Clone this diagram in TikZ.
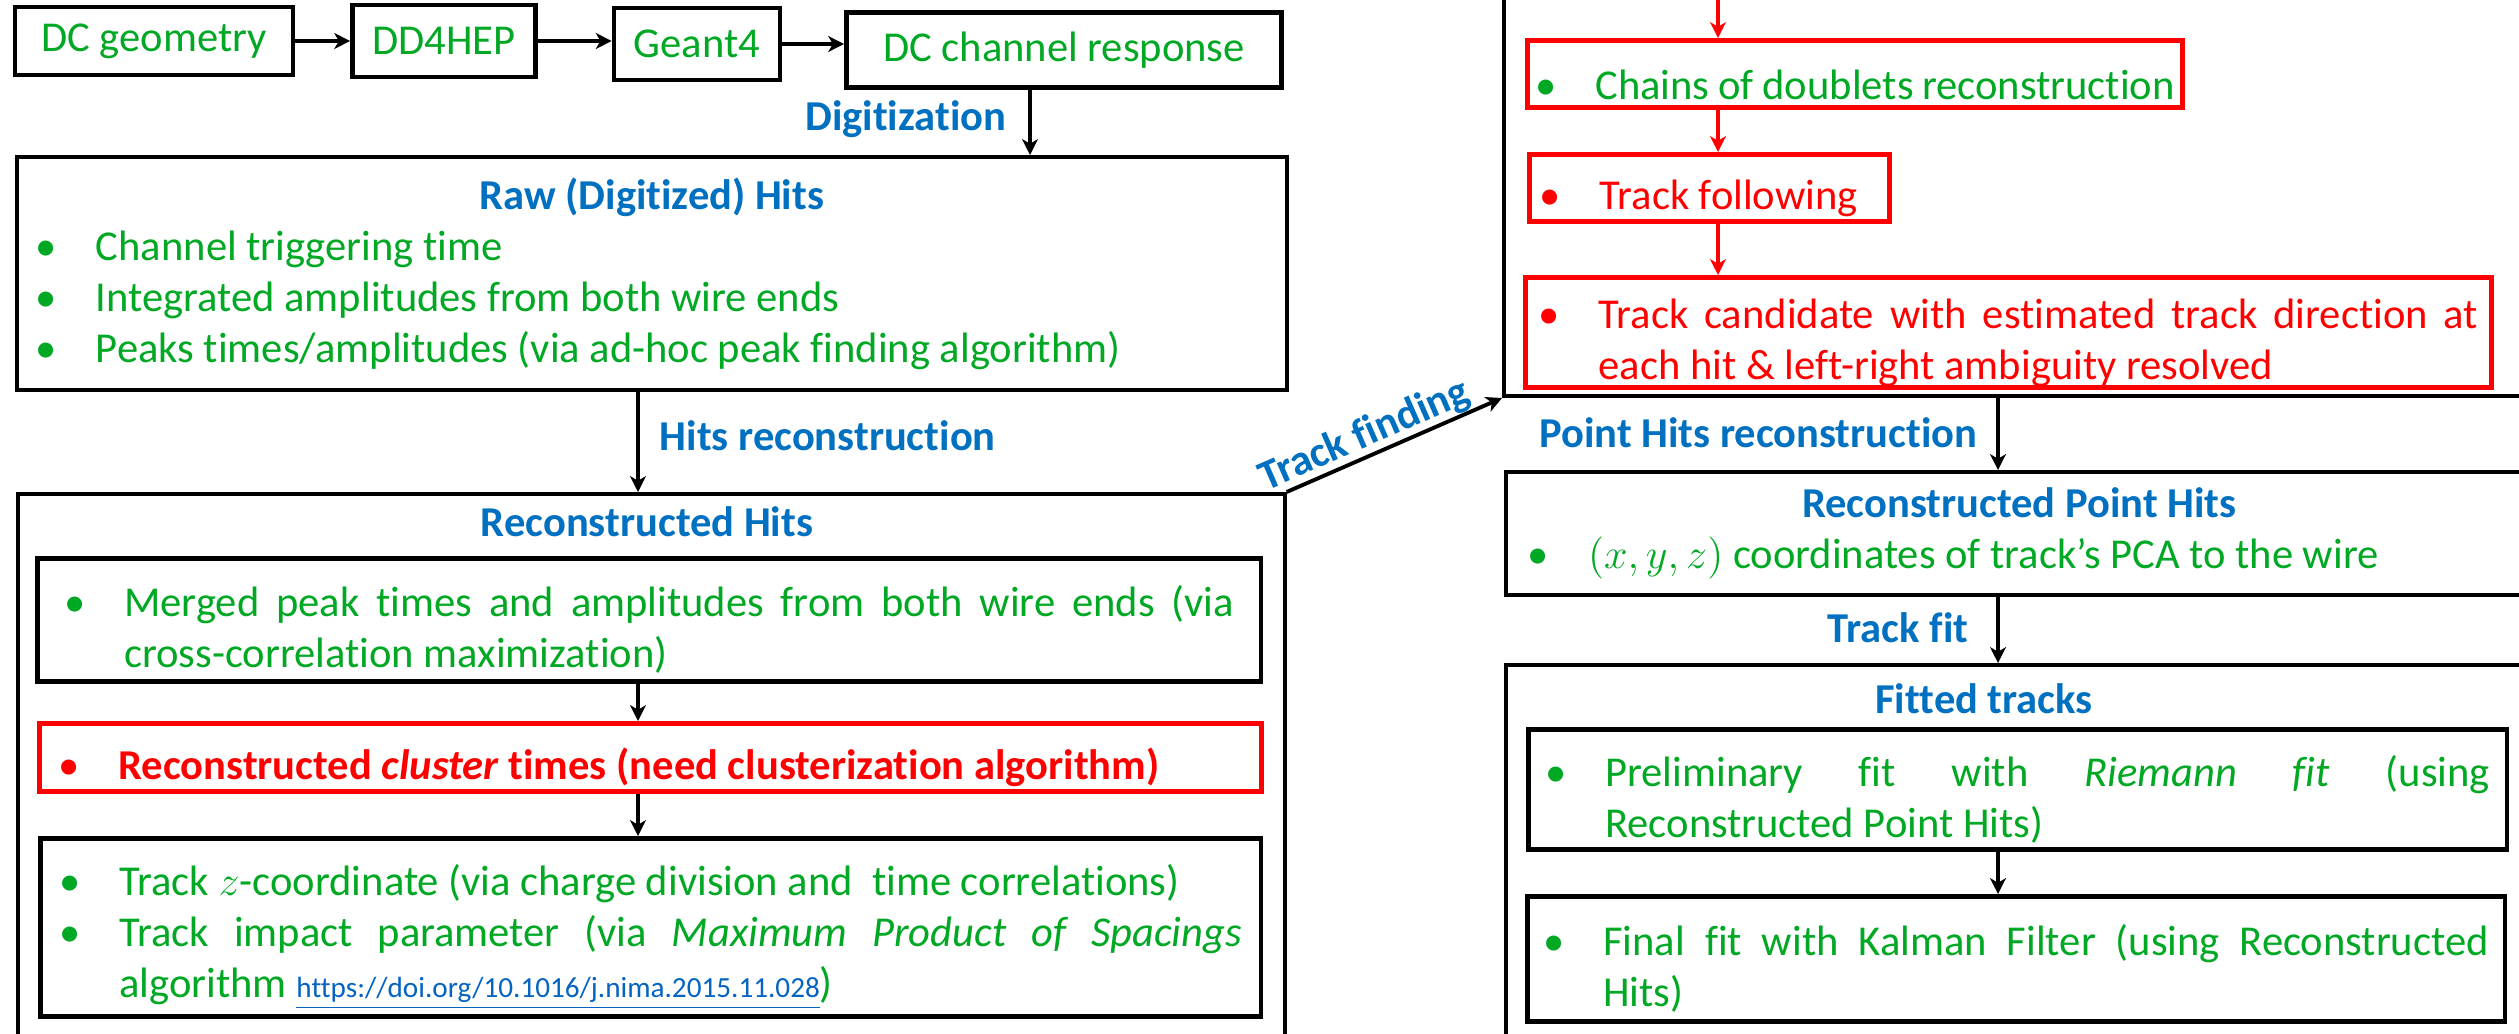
\documentclass[tikz,border=0pt]{standalone}
\usepackage{fontspec}
\setmainfont[Ligatures={NoCommon}]{Carlito}
\usetikzlibrary{arrows.meta}
\definecolor{grn}{RGB}{0,168,36}
\definecolor{blu}{HTML}{0070C0}
\definecolor{lnk}{HTML}{0563C1}
\definecolor{rd}{HTML}{FF0000}
\newcommand{\bitem}[1]{\par\noindent\hangindent=0.6cm\hangafter=1\makebox[0.6cm][l]{\textbullet}#1\par}
\newcommand{\ttl}[1]{{\centering\bfseries\color{blu}#1\par}}
\tikzstyle{every node}=[font=\fontsize{12.1}{14.5}\selectfont, text=grn, inner sep=0pt]
\tikzstyle{stage}=[draw=black, line width=1.3pt]
\tikzstyle{panel}=[draw=black, line width=1.1pt, anchor=north west, align=justify]
\tikzstyle{inbox}=[draw=black, line width=1.3pt, anchor=north west, align=justify]
\tikzstyle{redbox}=[draw=rd, line width=1.4pt, anchor=north west, align=justify]
\tikzstyle{lbl}=[font=\fontsize{12.1}{14.5}\selectfont\bfseries, text=blu]
\tikzstyle{flow}=[line width=0.9pt, -{Stealth[length=4.5pt,width=4.5pt,inset=1.3pt]}]
\tikzstyle{redflow}=[flow, draw=rd, line width=1.1pt]

\begin{document}
\begin{tikzpicture}[x=0.01cm, y=-0.01cm]
	\useasboundingbox (0,0) rectangle (2519,1033);
	\fill[white] (0,0) rectangle (2519,1033);
	\clip (0,0) rectangle (2519,1033);
	\coordinate (dgx) at (1030,0);
	\coordinate (hx) at (638,0);
	\coordinate (px) at (1998,0);
	\coordinate (tftop) at (1718,-30);

	\node[stage, minimum width=2.78cm, minimum height=0.68cm] (geom) at (154,41) {DC geometry};
	\node[stage, minimum width=1.83cm, minimum height=0.72cm] (dd4hep) at (444,41) {DD4HEP};
	\node[stage, minimum width=1.66cm, minimum height=0.72cm] (geant) at (697,44) {Geant4};
	\node[stage, minimum width=4.35cm, minimum height=0.75cm] (chan) at (1064,50) {DC channel response};
	\draw[flow, line width=1.4pt] (geom.east) -- (dd4hep.west |- geom.east);
	\draw[flow, line width=1.4pt] (dd4hep.east) -- (geant.west |- dd4hep.east);
	\draw[flow, line width=1.4pt] (geant.east) -- (chan.west |- geant.east);

	\node[panel, inner xsep=0.19cm, text width=12.31cm, minimum height=2.33cm] (raw) at (15,155) {\ttl{Raw (Digitized) Hits}\bitem{Channel triggering time}\bitem{Integrated amplitudes from both wire ends}\bitem{Peaks times/amplitudes (via ad-hoc peak finding algorithm)}};
	\node[lbl, anchor=base east] (digi) at (1007,130) {Digitization};
	\draw[flow] (chan.south -| dgx) -- (raw.north -| dgx);

	\node[panel, minimum width=12.66cm, minimum height=6cm] (rech) at (16,492) {};
	\node[lbl, anchor=base] (recht) at (647,536) {Reconstructed Hits};
	\node[lbl, anchor=base west] (hrec) at (659,450) {Hits reconstruction};
	\draw[flow] (raw.south -| hx) -- (rech.north -| hx);
	\node[inbox, inner xsep=0.27cm, text width=11.69cm, minimum height=1.23cm] (merged) at (35,556) {\bitem{Merged peak times and amplitudes from both wire ends (via\linebreak cross-correlation maximization)}};
	\node[redbox, text=rd, inner xsep=0.19cm, text width=11.83cm, minimum height=0.68cm] (clus) at (37,721) {\bitem{\bfseries Reconstructed \textit{cluster} times (need clusterization algorithm)}};
	\node[inbox, inner xsep=0.19cm, text width=11.82cm, minimum height=1.78cm] (trkz) at (38,836) {\bitem{Track $z$-coordinate (via charge division and\ \ time correlations)}\bitem{Track impact parameter (via \textit{Maximum Product of Spacings}\linebreak algorithm {\fontsize{8.3}{10}\selectfont\color{lnk}\underline{https://doi.org/10.1016/j.nima.2015.11.028}})}};
	\draw[flow] (merged.south -| hx) -- (clus.north -| hx);
	\draw[flow] (clus.south -| hx) -- (trkz.north -| hx);

	\node[panel, anchor=south west, minimum width=11cm, minimum height=6cm] (tf) at (1502,398) {};
	\node[redbox, inner xsep=0.08cm, text width=6.39cm, minimum height=0.67cm] (chains) at (1525,38) {\bitem{Chains of doublets reconstruction}};
	\node[redbox, text=rd, inner xsep=0.10cm, text width=3.40cm, minimum height=0.67cm] (follow) at (1527,152) {\bitem{Track following}};
	\node[redbox, text=rd, inner xsep=0.13cm, text width=9.39cm, minimum height=1.10cm] (cand) at (1523,275) {\bitem{Track candidate with estimated track direction at\linebreak each hit \& left-right ambiguity resolved}};
	\draw[redflow] (tftop) -- (tftop |- chains.north);
	\draw[redflow] (chains.south -| tftop) -- (follow.north -| tftop);
	\draw[redflow] (follow.south -| tftop) -- (cand.north -| tftop);
	\draw[flow, line width=1.1pt] (rech.north east) -- node[lbl, sloped, above, pos=0.4] (tfl) {Track finding} (tf.south west);

	\node[panel, inner xsep=0.22cm, text width=9.82cm, minimum height=1.23cm] (recpt) at (1504,470) {\ttl{Reconstructed Point Hits}\bitem{$(x,y,z)$ coordinates of track’s PCA to the wire}};
	\node[lbl, anchor=base east] (ptrec) at (1978,447) {Point Hits reconstruction};
	\draw[flow] (tf.south -| px) -- (recpt.north -| px);

	\node[panel, minimum width=10.26cm, minimum height=5cm] (fit) at (1504,663) {};
	\node[lbl, anchor=base] (fitt) at (1984,713) {Fitted tracks};
	\node[lbl, anchor=base east] (tfit) at (1969,642) {Track fit};
	\draw[flow] (recpt.south -| px) -- (fit.north -| px);
	\node[inbox, inner xsep=0.17cm, text width=9.44cm, minimum height=1.20cm] (prelim) at (1526,727) {\bitem{Preliminary fit with \textit{Riemann fit} (using\linebreak Reconstructed Point Hits)}};
	\node[inbox, inner xsep=0.16cm, text width=9.45cm, minimum height=1.25cm] (final) at (1525,894) {\bitem{Final fit with Kalman Filter (using Reconstructed\linebreak Hits)}};
	\draw[flow] (prelim.south -| px) -- (final.north -| px);
\end{tikzpicture}
\end{document}
